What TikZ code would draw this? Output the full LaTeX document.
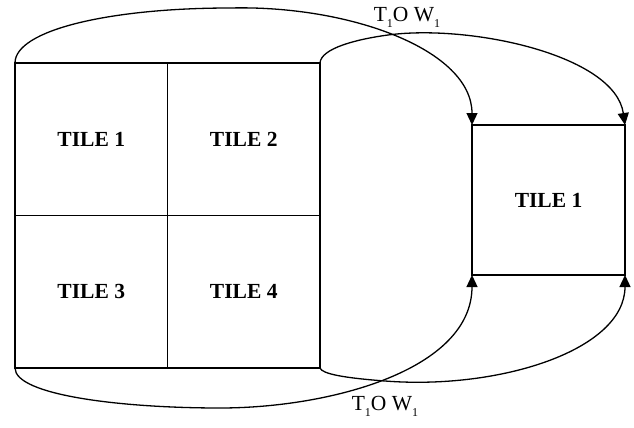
\documentclass[tikz,border=0pt]{standalone}
\usepackage{fontspec}
\setmainfont{Liberation Serif}
\usetikzlibrary{arrows.meta}
\newcommand{\lowone}{\raisebox{-0.6ex}{\fontsize{12}{12}\selectfont 1}}
\begin{document}
\begin{tikzpicture}[x=1pt,y=-1pt,
  tilebox/.style={draw,line width=1.3pt,outer sep=0pt,inner sep=0pt,
    font=\fontsize{21.5}{21.5}\selectfont\bfseries},
  link/.style={line width=1.3pt,-{Triangle[length=12pt,width=11pt]}},
  maplabel/.style={font=\fontsize{21.5}{21.5}\selectfont,inner sep=0pt}]
\useasboundingbox (0,0) rectangle (634,428);

% source image split into four tiles
\node[tilebox,minimum width=152.5pt,minimum height=152.5pt] (t1) at (91.25,139.25) {TILE 1};
\node[tilebox,minimum width=152.5pt,minimum height=152.5pt] (t2) at (243.75,139.25) {TILE 2};
\node[tilebox,minimum width=152.5pt,minimum height=152.5pt] (t3) at (91.25,291.75) {TILE 3};
\node[tilebox,minimum width=152.5pt,minimum height=152.5pt] (t4) at (243.75,291.75) {TILE 4};

% transformed tile
\node[tilebox,minimum width=153pt,minimum height=150pt] (r1) at (548.5,200) {TILE 1};

% corner mappings
\draw[link] (t1.north west) .. controls (15,30) and (110,8) .. (230,8)
  .. controls (350,5) and (472,50) .. (r1.north west);
\draw[link] (t2.north east) .. controls (321,48) and (358,39) .. (388,35)
  .. controls (470,24) and (615,55) .. (r1.north east);
\draw[link] (t3.south west) .. controls (15,395) and (120,408) .. (220,408)
  .. controls (330,408) and (472,370) .. (r1.south west);
\draw[link] (t4.south east) .. controls (322,374) and (345,378) .. (385,381)
  .. controls (500,390) and (625,350) .. (r1.south east);

% transform labels
\node[maplabel] (ltop) at (407,17) {T\lowone O W\lowone};
\node[maplabel] (lbot) at (385,406) {T\lowone O W\lowone};
\end{tikzpicture}
\end{document}
